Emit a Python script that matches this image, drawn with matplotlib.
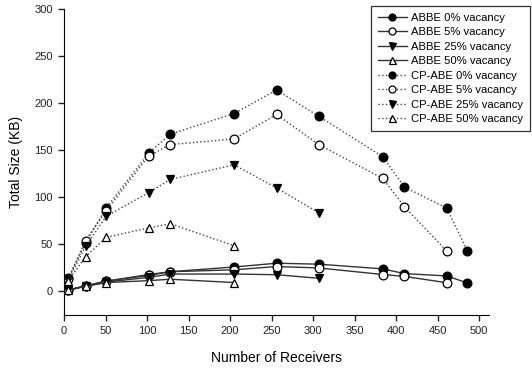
import matplotlib
matplotlib.use("Agg")
import matplotlib.pyplot as plt

plt.rcParams['font.family'] = ['Liberation Sans', 'DejaVu Sans']

# receivers
x12 = [5, 26, 51, 102, 128, 205, 256, 307, 384, 410, 461, 486]

abbe_0 = [1.5, 6, 11, 18, 21, 26, 30, 29, 24, 19, 16.5, 9]
abbe_5 = [1.5, 6, 11, 17, 21, 23, 26.5, 25, 18, 16, 9.3]
abbe_25 = [1.5, 5.5, 10, 15, 18.5, 18.5, 17.8, 14]
abbe_50 = [1.5, 5.5, 9.5, 11.5, 13, 9.5]

cp_0 = [14, 52, 89, 147, 167, 189, 214, 186, 143, 111, 88.5, 43]
cp_5 = [13, 54, 86, 144, 156, 162, 188, 156, 120, 90, 43]
cp_25 = [12, 48, 80, 105, 119, 134.5, 110, 83.5]
cp_50 = [11, 37, 57.5, 67.5, 72, 48.5]

labels = ["ABBE 0% vacancy", "ABBE 5% vacancy", "ABBE 25% vacancy", "ABBE 50% vacancy",
          "CP-ABE 0% vacancy", "CP-ABE 5% vacancy", "CP-ABE 25% vacancy", "CP-ABE 50% vacancy"]

fig = plt.figure(figsize=(5.32, 3.69), dpi=100)
ax = fig.add_axes([0.1203, 0.1463, 0.799, 0.8293])

series = [abbe_0, abbe_5, abbe_25, abbe_50, cp_0, cp_5, cp_25, cp_50]
markers = ['o', 'o', 'v', '^', 'o', 'o', 'v', '^']
fills = ['black', 'white', 'black', 'white'] * 2
for i, ys in enumerate(series):
    ls = '-' if i < 4 else ':'
    col = '#333333' if i < 4 else '#444444'
    ax.plot(x12[:len(ys)], ys, linestyle=ls, color=col, lw=1.0,
            marker=markers[i], ms=6.3, mfc=fills[i], mec='black', mew=0.9,
            label=labels[i])

ax.set_xlim(0, 512)
ax.set_ylim(-25, 300)
ax.set_xticks(range(0, 501, 50))
ax.set_yticks(range(0, 301, 50))
ax.spines['top'].set_visible(False)
ax.spines['right'].set_visible(False)
ax.tick_params(direction='out', length=4, width=1, labelsize=8, colors='#222222', pad=4)
ax.set_xlabel("Number of Receivers", fontsize=10, labelpad=11)
ax.set_ylabel("Total Size (KB)", fontsize=10, labelpad=8)

leg = ax.legend(loc='upper right', bbox_to_anchor=(1.0965, 1.0098), borderaxespad=0,
                fontsize=8.1, frameon=True, fancybox=False, edgecolor='black',
                handlelength=2.6, labelspacing=0.4, borderpad=0.6, handletextpad=0.4,
                markerscale=0.8)
leg.get_frame().set_linewidth(0.9)

fig.savefig("out.png", dpi=100)
